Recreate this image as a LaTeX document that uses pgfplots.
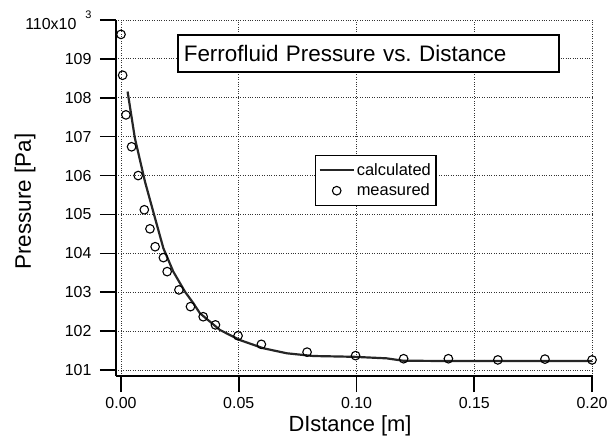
\documentclass[border=0pt]{standalone}
\usepackage{pgfplots}
\pgfplotsset{compat=1.18}
\usepackage{fontspec}
\setmainfont{Liberation Sans}

\pgfplotsset{
	longline legend/.style={legend image code/.code={\draw[##1] (0bp,0bp) -- (34bp,0bp);}},
	midmark legend/.style={legend image code/.code={\draw[##1] plot coordinates {(17bp,0bp)};}},
}

\begin{document}
\begin{tikzpicture}
	\begin{axis}[
	scale only axis,
	width=477bp, height=356bp,
	xmin=-0.00212, xmax=0.2004,
	ymin=100.846, ymax=110,
	clip=false,
	axis x line*=bottom,
	axis y line*=left,
	axis line style={-, line width=1.4pt},
	tick align=outside,
	major tick length=16bp,
	tick style={line width=1.6pt, black},
	xtick={0,0.05,0.1,0.15,0.2},
	ytick={101,102,...,110},
	yticklabels={101,102,103,104,105,106,107,108,109,{110x10\hspace{9bp}\raisebox{11bp}{\fontsize{11}{13}\selectfont 3}}},
	/pgf/number format/assume math mode=true,
	tick label style={font=\fontsize{16}{19}\selectfont},
	yticklabel style={xshift=-5bp},
	xticklabel style={yshift=-2bp, inner xsep=0bp, /pgf/number format/.cd, fixed, fixed zerofill, precision=2},
	grid=major,
	major grid style={dotted, line width=0.9pt, black!80},
	xlabel={DIstance [m]},
	ylabel={Pressure [Pa]},
	label style={font=\fontsize{22.5}{27}\selectfont},
	xlabel style={font=\fontsize{22}{26}\selectfont, at={(axis description cs:0.4906,0)}, anchor=base, yshift=-55bp},
	ylabel style={at={(axis description cs:0,0.49)}, anchor=base, yshift=85bp},
	legend style={at={(axis description cs:0.417,0.621)}, anchor=north west,
		draw=black, line width=1.4pt, font=\fontsize{16.5}{19}\selectfont,
		inner xsep=3bp, inner ysep=6bp, row sep=3bp},
	legend cell align=left,
	]

	\addplot[
	color=black!85,
	line width=2.2pt,
	longline legend,
	]
	coordinates {
		(0.0028,108.16)(0.0059,106.96)(0.0102,105.84)(0.0137,105.07)
		(0.018,104.13)(0.0222,103.53)(0.0272,103.01)(0.0307,102.72)
		(0.0335,102.46)(0.042,102.03)(0.0505,101.77)(0.0604,101.56)
		(0.0704,101.43)(0.0817,101.36)(0.0987,101.34)(0.1128,101.30)
		(0.1197,101.24)(0.14,101.23)(0.17,101.23)(0.2,101.23)
	};
	\addlegendentry{calculated}

	\addplot[
	only marks,
	mark=o,
	mark size=4.3bp,
	mark options={line width=1.1pt, black},
	midmark legend,
	]
	coordinates {
		(0,109.63)(0.0007,108.58)(0.0021,107.56)(0.0045,106.74)
		(0.0073,106.0)(0.0099,105.12)(0.0123,104.63)(0.0145,104.17)
		(0.018,103.89)(0.0196,103.53)(0.0246,103.06)(0.0295,102.63)
		(0.0349,102.37)(0.0401,102.16)(0.0497,101.88)(0.0596,101.66)
		(0.079,101.46)(0.0996,101.37)(0.12,101.29)(0.139,101.29)
		(0.160,101.26)(0.18,101.28)(0.20,101.26)
	};
	\addlegendentry{measured}

	\node[anchor=west, draw=black, line width=1.6pt, fill=white,
		minimum height=37bp, text width=369bp, inner xsep=6bp,
		font=\fontsize{22.5}{27}\selectfont]
		at (axis description cs:0.1279,0.906) {Ferrofluid Pressure vs.\ Distance};
	\end{axis}
	\path (current axis.south west) ++(-116bp,-61bp) rectangle ([xshift=16bp,yshift=20bp]current axis.north east);
\end{tikzpicture}
\end{document}
